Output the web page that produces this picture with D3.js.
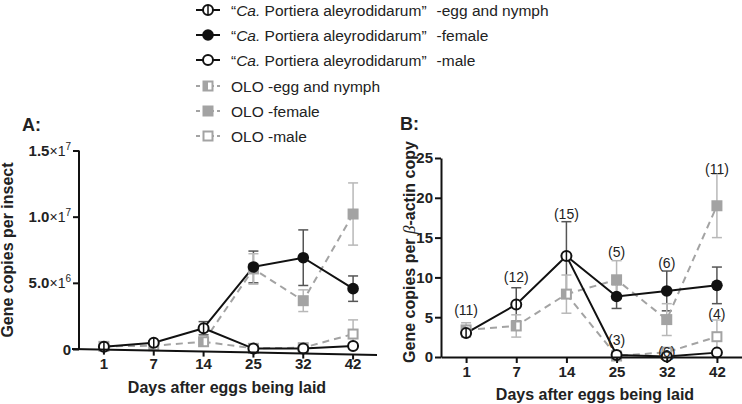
<!DOCTYPE html>
<html>
<head>
<meta charset="utf-8">
<script src="https://cdn.jsdelivr.net/npm/d3@7"></script>
<style>
  html, body { margin: 0; padding: 0; background: #fff; }
  svg { display: block; font-family: "Liberation Sans", Arial, sans-serif; }
</style>
</head>
<body>
<svg id="chart" width="742" height="404"></svg>
<script>
// ---------------- data ----------------
const days = ["1", "7", "14", "25", "32", "42"];
const eggDays = ["1", "7", "14"];
const adultDays = ["25", "32", "42"];

// Panel A: gene copies per insect (units of the ×1⁷ tick labels)
const aTicks = [0, 0.5, 1.0, 1.5];
const aTickMain = ["0", "5.0", "1.0", "1.5"];
const aTickExp = ["", "6", "7", "7"];
const portEggA = [0.017, 0.048, 0.157];
const portEggAErr = [0.008, 0.012, 0.05];
const portFemA = [0.62, 0.69, 0.456];
const portFemAErr = [0.12, 0.21, 0.096];
const portMaleA = [0.003, 0.003, 0.023];
const portMaleAErr = [0.002, 0.002, 0.02];
const oloEggA = [0.02, 0.025, 0.055];
const oloEggAErr = [0.006, 0.008, 0.022];
const oloFemA = [0.605, 0.365, 1.02];
const oloFemAErr = [0.115, 0.082, 0.235];
const oloMaleA = [0.005, 0.01, 0.113];
const oloMaleAErr = [0.003, 0.006, 0.107];

// Panel B: gene copies per beta-actin copy
const bTicks = [0, 5, 10, 15, 20, 25];
const portEggB = [3.0, 6.6, 12.7];
const portEggBErr = [0.4, 2.1, 4.3];
const portFemB = [7.6, 8.3, 9.0];
const portFemBErr = [1.5, 2.5, 2.3];
const portMaleB = [0.25, 0.05, 0.55];
const portMaleBErr = [0.1, 0.05, 0.12];
const oloEggB = [3.4, 3.9, 7.9];
const oloEggBErr = [0.9, 1.4, 2.4];
const oloFemB = [9.7, 4.7, 19.0];
const oloFemBErr = [2.4, 2.0, 4.0];
const oloMaleB = [0.12, 0.6, 2.55];
const oloMaleBErr = [0.1, 0.5, 2.1];

// sample sizes shown in panel B
const nLabels = ["(11)", "(12)", "(15)", "(5)", "(6)", "(11)", "(3)", "(6)", "(4)"];
const nDays = ["1", "7", "14", "25", "32", "42", "25", "32", "42"];
const nAt = [5.9, 10.1, 18.0, 13.2, 11.8, 23.6, 2.1, 0.67, 5.4];

const legendLabels = [
  {ital: "Ca.", rest: " Portiera aleyrodidarum\u201D", tail: "-egg and nymph", q: true},
  {ital: "Ca.", rest: " Portiera aleyrodidarum\u201D", tail: "-female", q: true},
  {ital: "Ca.", rest: " Portiera aleyrodidarum\u201D", tail: "-male", q: true},
  {plain: "OLO -egg and nymph"},
  {plain: "OLO -female"},
  {plain: "OLO -male"}
];

// ---------------- styles ----------------
const BLACK = "#111";
const GREY = "#a3a3a3";
const PERR = "#555";
const OERR = "#b8b8b8";

const svg = d3.select("#chart");

function marker(g, type, x, y) {
  const r = 5, s = 9;
  if (type === "pegg") {
    g.append("circle").attr("cx", x).attr("cy", y).attr("r", r)
      .attr("fill", "#fff").attr("stroke", BLACK).attr("stroke-width", 2);
    g.append("line").attr("x1", x).attr("x2", x).attr("y1", y - r).attr("y2", y + r)
      .attr("stroke", BLACK).attr("stroke-width", 1.5);
  } else if (type === "pfem") {
    g.append("circle").attr("cx", x).attr("cy", y).attr("r", r + 0.8).attr("fill", BLACK);
  } else if (type === "pmale") {
    g.append("circle").attr("cx", x).attr("cy", y).attr("r", r)
      .attr("fill", "#fff").attr("stroke", BLACK).attr("stroke-width", 2);
  } else if (type === "oegg") {
    g.append("rect").attr("x", x - s / 2).attr("y", y - s / 2).attr("width", s).attr("height", s)
      .attr("fill", "#fff").attr("stroke", GREY).attr("stroke-width", 2);
    g.append("rect").attr("x", x - s / 2).attr("y", y - s / 2).attr("width", s / 2).attr("height", s)
      .attr("fill", GREY);
  } else if (type === "ofem") {
    g.append("rect").attr("x", x - s / 2 - 1).attr("y", y - s / 2 - 1).attr("width", s + 2).attr("height", s + 2)
      .attr("fill", GREY);
  } else if (type === "omale") {
    g.append("rect").attr("x", x - s / 2).attr("y", y - s / 2).attr("width", s).attr("height", s)
      .attr("fill", "#fff").attr("stroke", GREY).attr("stroke-width", 2);
  }
}

function drawPanel(p) {
  const g = svg.append("g");
  const x = d3.scalePoint().domain(days).range(p.xRange).padding(0.5);
  const y = d3.scaleLinear().domain(p.yDomain).range(p.yRange);

  const series = [
    {d: eggDays, v: p.portEgg, e: p.portEggErr, col: BLACK, ec: PERR, dash: null, m: "pegg"},
    {d: adultDays, v: p.portFem, e: p.portFemErr, col: BLACK, ec: PERR, dash: null, m: "pfem", from: 0},
    {d: adultDays, v: p.portMale, e: p.portMaleErr, col: BLACK, ec: PERR, dash: null, m: "pmale", from: 0},
    {d: eggDays, v: p.oloEgg, e: p.oloEggErr, col: GREY, ec: OERR, dash: "7,5", m: "oegg"},
    {d: adultDays, v: p.oloFem, e: p.oloFemErr, col: GREY, ec: OERR, dash: "7,5", m: "ofem", from: 3},
    {d: adultDays, v: p.oloMale, e: p.oloMaleErr, col: GREY, ec: OERR, dash: "7,5", m: "omale", from: 3}
  ];

  // error bars
  const eg = g.append("g");
  series.forEach(s => {
    s.d.forEach((day, i) => {
      const cx = x(day), hi = y(s.v[i] + s.e[i]), lo = y(Math.max(0, s.v[i] - s.e[i]));
      eg.append("line").attr("x1", cx).attr("x2", cx).attr("y1", hi).attr("y2", lo)
        .attr("stroke", s.ec).attr("stroke-width", 1.5);
      [hi, lo].forEach(yy => eg.append("line").attr("x1", cx - 5).attr("x2", cx + 5)
        .attr("y1", yy).attr("y2", yy).attr("stroke", s.ec).attr("stroke-width", 1.5));
    });
  });

  // lines
  const line = d3.line().x(d => x(d[0])).y(d => y(d[1]));
  const order = [3, 4, 5, 0, 1, 2];
  order.forEach(k => {
    const s = series[k];
    let pts = s.d.map((day, i) => [day, s.v[i]]);
    if (s.from !== undefined) {
      const src = series[s.from];
      pts = [[src.d[src.d.length - 1], src.v[src.v.length - 1]]].concat(pts);
    }
    g.append("path").attr("d", line(pts)).attr("fill", "none")
      .attr("stroke", s.col).attr("stroke-width", 2)
      .attr("stroke-dasharray", s.dash);
  });

  // markers
  order.forEach(k => {
    const s = series[k];
    s.d.forEach((day, i) => marker(g, s.m, x(day), y(s.v[i])));
  });

  return {g, x, y};
}

// ---------------- Panel A ----------------
const A = drawPanel({
  xRange: [79, 378], yDomain: [0, 1.5], yRange: [349, 150.5],
  portEgg: portEggA, portEggErr: portEggAErr, portFem: portFemA, portFemErr: portFemAErr,
  portMale: portMaleA, portMaleErr: portMaleAErr, oloEgg: oloEggA, oloEggErr: oloEggAErr,
  oloFem: oloFemA, oloFemErr: oloFemAErr, oloMale: oloMaleA, oloMaleErr: oloMaleAErr
});
// y axis A
const ayAxis = svg.append("g").attr("transform", "translate(79,0)")
  .call(d3.axisLeft(A.y).tickValues(aTicks).tickSize(6).tickPadding(2).tickFormat(""));
ayAxis.select(".domain").attr("stroke", BLACK).attr("stroke-width", 2).attr("d", "M0,349V150.5");
ayAxis.selectAll(".tick line").attr("stroke", BLACK).attr("stroke-width", 2);
aTicks.forEach((t, i) => {
  const tx = svg.append("text").attr("x", 71).attr("y", A.y(t) + 5.5)
    .attr("text-anchor", "end").attr("font-size", 15).attr("font-weight", "bold").attr("fill", "#222");
  tx.append("tspan").text(aTickMain[i]);
  if (aTickExp[i]) {
    tx.append("tspan").attr("font-weight", "normal").attr("font-size", 14).text("\u00D71");
    tx.append("tspan").attr("font-weight", "normal").attr("font-size", 10).attr("dy", -6).text(aTickExp[i]);
  }
});
// slanted x axis A
const slant = xx => 349 + (xx - 72) * (6 / 305);
svg.append("line").attr("x1", 72).attr("y1", slant(72)).attr("x2", 377).attr("y2", slant(377))
  .attr("stroke", BLACK).attr("stroke-width", 2);
days.forEach(d => {
  const xx = A.x(d);
  svg.append("line").attr("x1", xx).attr("x2", xx).attr("y1", slant(xx)).attr("y2", slant(xx) + 5)
    .attr("stroke", BLACK).attr("stroke-width", 2);
  svg.append("text").attr("x", xx).attr("y", 369).attr("text-anchor", "middle")
    .attr("font-size", 15).attr("font-weight", "bold").attr("fill", "#222").text(d);
});
svg.append("text").attr("x", 227).attr("y", 393).attr("text-anchor", "middle")
  .attr("font-size", 16).attr("font-weight", "bold").attr("fill", "#222").text("Days after eggs being laid");
svg.append("text").attr("transform", "translate(13,250) rotate(-90)").attr("text-anchor", "middle")
  .attr("font-size", 16).attr("font-weight", "bold").attr("fill", "#222").text("Gene copies per insect");
svg.append("text").attr("x", 22).attr("y", 131).attr("font-size", 18).attr("font-weight", "bold")
  .attr("fill", "#222").text("A:");

// ---------------- Panel B ----------------
const B = drawPanel({
  xRange: [441, 742], yDomain: [0, 25], yRange: [357, 158],
  portEgg: portEggB, portEggErr: portEggBErr, portFem: portFemB, portFemErr: portFemBErr,
  portMale: portMaleB, portMaleErr: portMaleBErr, oloEgg: oloEggB, oloEggErr: oloEggBErr,
  oloFem: oloFemB, oloFemErr: oloFemBErr, oloMale: oloMaleB, oloMaleErr: oloMaleBErr
});
const byAxis = svg.append("g").attr("transform", "translate(441,0)")
  .call(d3.axisLeft(B.y).tickValues(bTicks).tickSize(6).tickPadding(2).tickSizeOuter(0));
byAxis.select(".domain").attr("stroke", BLACK).attr("stroke-width", 2);
byAxis.selectAll(".tick line").attr("stroke", BLACK).attr("stroke-width", 2);
byAxis.selectAll(".tick text").attr("font-size", 15).attr("font-weight", "bold").attr("fill", "#222")
  .attr("font-family", "Liberation Sans, Arial, sans-serif");
const bxAxis = svg.append("g").attr("transform", "translate(0,357)")
  .call(d3.axisBottom(B.x).tickSize(6).tickPadding(3).tickSizeOuter(0));
bxAxis.select(".domain").attr("stroke", BLACK).attr("stroke-width", 2);
bxAxis.selectAll(".tick line").attr("stroke", BLACK).attr("stroke-width", 2);
bxAxis.selectAll(".tick text").attr("font-size", 15).attr("font-weight", "bold").attr("fill", "#222")
  .attr("font-family", "Liberation Sans, Arial, sans-serif");
svg.append("text").attr("x", 595).attr("y", 400).attr("text-anchor", "middle")
  .attr("font-size", 16).attr("font-weight", "bold").attr("fill", "#222").text("Days after eggs being laid");
const bt = svg.append("text").attr("transform", "translate(415,252) rotate(-90)").attr("text-anchor", "middle")
  .attr("font-size", 16).attr("font-weight", "bold").attr("fill", "#222");
bt.append("tspan").text("Gene copies per ");
bt.append("tspan").attr("font-family", "Liberation Serif, serif").attr("font-style", "italic")
  .attr("font-weight", "normal").attr("font-size", 17).text("\u03B2");
bt.append("tspan").text("-actin copy");
svg.append("text").attr("x", 400).attr("y", 130).attr("font-size", 18).attr("font-weight", "bold")
  .attr("fill", "#222").text("B:");
// n labels
nLabels.forEach((t, i) => {
  svg.append("text").attr("x", B.x(nDays[i])).attr("y", B.y(nAt[i]) + 5)
    .attr("text-anchor", "middle").attr("font-size", 14).attr("fill", "#222").text(t);
});

// ---------------- Legend ----------------
const legTypes = ["pegg", "pfem", "pmale", "oegg", "ofem", "omale"];
const legY = [10, 35, 60, 86, 111, 136];
legTypes.forEach((t, i) => {
  const g = svg.append("g");
  const grey = i >= 3;
  g.append("line").attr("x1", 196).attr("x2", 220).attr("y1", legY[i]).attr("y2", legY[i])
    .attr("stroke", grey ? GREY : BLACK).attr("stroke-width", 2)
    .attr("stroke-dasharray", grey ? "4,3" : null);
  marker(g, t, 208, legY[i]);
  const L = legendLabels[i];
  const tx = svg.append("text").attr("x", 231).attr("y", legY[i] + 5.5)
    .attr("font-size", 15.5).attr("fill", "#222");
  if (L.plain) {
    tx.text(L.plain);
  } else {
    tx.append("tspan").text("\u201C");
    tx.append("tspan").attr("font-style", "italic").text(L.ital);
    tx.append("tspan").text(L.rest);
    tx.append("tspan").attr("dx", 10).text(L.tail);
  }
});
</script>
</body>
</html>
